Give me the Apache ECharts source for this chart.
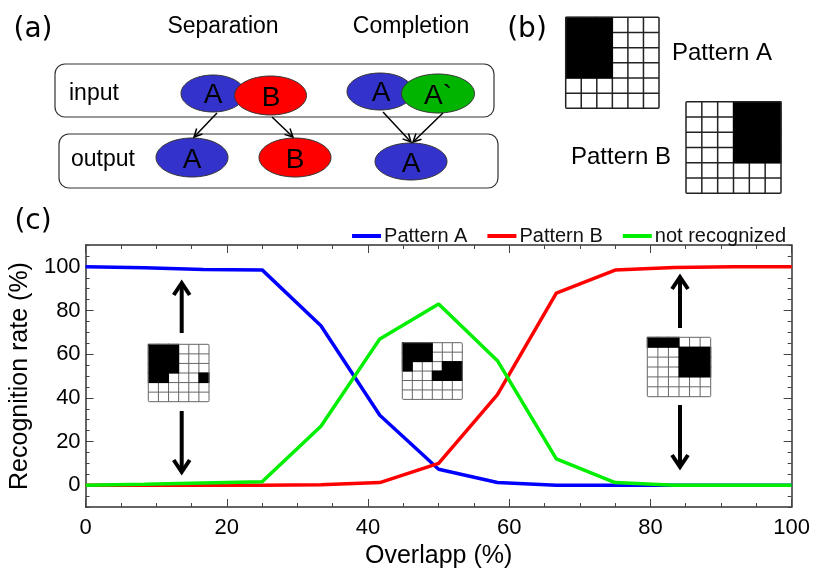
<!DOCTYPE html>
<html><head><meta charset="utf-8">
<script src="https://cdn.jsdelivr.net/npm/echarts@6/dist/echarts.min.js"></script>
<style>html,body{margin:0;padding:0;background:#fff}#main{width:813px;height:571px}</style>
</head><body><div id="main"></div>
<script>
// ---- data ----
const overlap = [0, 8.33, 16.67, 25, 33.33, 41.67, 50, 58.33, 66.67, 75, 83.33, 91.67, 100];
const patternA = [100, 99.6, 98.8, 98.6, 73, 32, 7.3, 1.2, 0, 0, 0, 0, 0];
const patternB = [0, 0, 0, 0, 0.2, 1.2, 10, 41.5, 88, 98.5, 99.7, 100, 100];
const notRecognized = [0, 0.4, 1, 1.6, 27, 67, 83, 57, 12, 1.2, 0, 0, 0];
const seriesNames = ['Pattern A', 'Pattern B', 'not recognized'];
const xTicks = [0, 20, 40, 60, 80, 100];
const yTicks = [0, 20, 40, 60, 80, 100];

// pattern grids (black cells as [row, col])
const gridPatA = [[0,0],[0,1],[0,2],[1,0],[1,1],[1,2],[2,0],[2,1],[2,2],[3,0],[3,1],[3,2]];
const gridPatB = [[0,3],[0,4],[0,5],[1,3],[1,4],[1,5],[2,3],[2,4],[2,5],[3,3],[3,4],[3,5]];
const gridInset1 = [[0,0],[0,1],[0,2],[1,0],[1,1],[1,2],[2,0],[2,1],[2,2],[3,0],[3,1],[3,5]];
const gridInset2 = [[0,0],[0,1],[0,2],[1,0],[1,1],[1,2],[2,0],[2,4],[2,5],[3,3],[3,4],[3,5]];
const gridInset3 = [[0,0],[0,1],[0,2],[1,3],[1,4],[1,5],[2,3],[2,4],[2,5],[3,3],[3,4],[3,5]];

const FONT = 'Liberation Sans, Arial, sans-serif';

function pixelGrid(x, y, w, h, cells, lineColor, lw, r) {
  const ch = [];
  const cw = w / 6, chh = h / 6;
  ch.push({type:'rect', shape:{x:x, y:y, width:w, height:h, r:r||0}, style:{fill:'#fff'}});
  for (let i = 1; i < 6; i++) {
    ch.push({type:'line', shape:{x1:x+i*cw, y1:y, x2:x+i*cw, y2:y+h}, style:{stroke:lineColor, lineWidth:lw}});
    ch.push({type:'line', shape:{x1:x, y1:y+i*chh, x2:x+w, y2:y+i*chh}, style:{stroke:lineColor, lineWidth:lw}});
  }
  cells.forEach(c => ch.push({type:'rect', shape:{x:x + c[1]*cw - 0.5, y:y + c[0]*chh - 0.5, width:cw+1, height:chh+1}, style:{fill:'#000'}}));
  ch.push({type:'rect', shape:{x:x, y:y, width:w, height:h, r:r||0}, style:{fill:'none', stroke:lineColor, lineWidth:lw}});
  return {type:'group', children:ch};
}

function arrow(x1, y1, x2, y2, lw, hl, hw) {
  const dx = x2 - x1, dy = y2 - y1, L = Math.sqrt(dx*dx + dy*dy);
  const ux = dx / L, uy = dy / L, px = -uy, py = ux;
  const bx = x2 - ux*hl, by = y2 - uy*hl;
  return {type:'group', children:[
    {type:'line', shape:{x1:x1, y1:y1, x2:x2 - ux*lw*0.3, y2:y2 - uy*lw*0.3}, style:{stroke:'#000', lineWidth:lw}},
    {type:'polyline', shape:{points:[[bx + px*hw, by + py*hw],[x2, y2],[bx - px*hw, by - py*hw]]}, style:{stroke:'#000', lineWidth:lw, fill:'none', lineJoin:'miter'}}
  ]};
}

function txt(x, y, s, size, family, align) {
  return {type:'text', x:x, y:y, style:{text:s, fontSize:size, fontFamily:family || FONT, fill:'#000', align:align || 'center', verticalAlign:'middle'}};
}
function ell(cx, cy, rx, ry, fill) {
  return {type:'ellipse', shape:{cx:cx, cy:cy, rx:rx, ry:ry}, style:{fill:fill, stroke:'#333', lineWidth:1}};
}

const graphics = [
  // panel labels
  txt(33, 30, '(a)', 28, 'DejaVu Sans'),
  txt(527, 30, '(b)', 28, 'DejaVu Sans'),
  txt(33, 222, '(c)', 28, 'DejaVu Sans'),
  // panel (a)
  txt(223, 27, 'Separation', 23),
  txt(411, 27, 'Completion', 23),
  {type:'rect', shape:{x:55, y:64, width:439, height:53, r:10}, style:{fill:'none', stroke:'#333', lineWidth:1.2}},
  {type:'rect', shape:{x:59, y:134, width:439, height:54, r:10}, style:{fill:'none', stroke:'#333', lineWidth:1.2}},
  txt(69, 94, 'input', 23, null, 'left'),
  txt(71, 160, 'output', 23, null, 'left'),
  ell(213, 93.5, 32, 18.5, '#3333cc'), txt(213, 95, 'A', 28),
  ell(270.5, 95.5, 36, 19.5, '#ff0000'), txt(271, 98, 'B', 28),
  ell(380, 91.5, 33, 18.5, '#3333cc'), txt(381, 93, 'A', 28),
  ell(438, 93.5, 36.5, 19.5, '#00b400'), txt(438, 96, 'A`', 28),
  ell(192, 157.5, 36, 19.5, '#3333cc'), txt(192, 160, 'A', 28),
  ell(295, 157.5, 36, 19.5, '#ff0000'), txt(295, 160, 'B', 28),
  ell(411, 161.5, 36, 18.5, '#3333cc'), txt(411, 164, 'A', 28),
  arrow(217, 113, 194, 137, 1.5, 8, 4),
  arrow(272, 117, 293, 137, 1.5, 8, 4),
  arrow(383, 112, 411, 142, 1.5, 8, 4),
  arrow(443, 113, 413, 142, 1.5, 8, 4),
  // panel (b)
  pixelGrid(565.7, 17.3, 93.3, 91, gridPatA, '#222', 1.5, 1),
  pixelGrid(686, 101.7, 95, 91.6, gridPatB, '#222', 1.5, 1),
  txt(672, 53, 'Pattern A', 24, null, 'left'),
  txt(571, 157, 'Pattern B', 24, null, 'left'),
  // insets in (c)
  pixelGrid(148.3, 344.3, 60.7, 57.4, gridInset1, '#666', 1, 1),
  pixelGrid(402.3, 342.7, 60, 56.7, gridInset2, '#666', 1, 1),
  pixelGrid(647.3, 337.3, 63.4, 59.4, gridInset3, '#666', 1, 1),
  arrow(181.7, 333, 181.7, 283, 4, 12, 8),
  arrow(181.7, 411, 181.7, 472, 4, 12, 8),
  arrow(680, 328, 680, 277, 4, 12, 8),
  arrow(680, 405, 680, 467, 4, 12, 8)
];

const axisLineStyle = {color:'#333', width:1.5};
const yBase = {type:'value', min:-10, max:110, splitLine:{show:false}};
const option = {
  animation:false,
  backgroundColor:'#fff',
  textStyle:{fontFamily:FONT},
  grid:{left:84, right:20, top:245, bottom:64, containLabel:false},
  legend:{
    data:seriesNames, right:22, top:221, icon:'rect', itemWidth:29, itemHeight:4, itemGap:20,
    textStyle:{fontSize:20, color:'#111', fontFamily:FONT, padding:[0,0,0,-2]}
  },
  xAxis:[
    {type:'value', min:0, max:100, interval:20, position:'bottom',
     axisLine:{show:true, onZero:false, lineStyle:axisLineStyle},
     axisTick:{show:true, inside:true, length:8, lineStyle:{color:'#444', width:1}},
     minorTick:{show:true, splitNumber:4, length:4, lineStyle:{color:'#444', width:1}},
     axisLabel:{fontSize:22, color:'#000', margin:10, fontFamily:FONT, customValues:xTicks},
     splitLine:{show:false},
     name:'Overlapp (%)', nameLocation:'middle', nameGap:37,
     nameTextStyle:{fontSize:25, color:'#000', fontFamily:FONT}},
    {type:'value', min:0, max:100, interval:20, position:'top',
     axisLine:{show:true, onZero:false, lineStyle:axisLineStyle},
     axisTick:{show:true, inside:true, length:8, lineStyle:{color:'#444', width:1}},
     minorTick:{show:true, splitNumber:4, length:4, lineStyle:{color:'#444', width:1}},
     axisLabel:{show:false}, splitLine:{show:false}}
  ],
  yAxis:[
    Object.assign({}, yBase, {interval:5, position:'left',
      axisLine:{show:true, onZero:false, lineStyle:axisLineStyle},
      axisTick:{show:true, inside:true, length:4, lineStyle:{color:'#444', width:1}},
      axisLabel:{show:false}}),
    Object.assign({}, yBase, {interval:5, position:'left',
      axisLine:{show:false, onZero:false},
      axisTick:{show:true, inside:true, length:8, customValues:yTicks, lineStyle:{color:'#444', width:1}},
      axisLabel:{show:true, customValues:yTicks, fontSize:22, color:'#000', margin:5, fontFamily:FONT},
      name:'Recognition rate (%)', nameLocation:'middle', nameGap:45, nameRotate:90,
      nameTextStyle:{fontSize:25, color:'#000', fontFamily:FONT}}),
    Object.assign({}, yBase, {interval:5, position:'right',
      axisLine:{show:true, onZero:false, lineStyle:axisLineStyle},
      axisTick:{show:true, inside:true, length:4, lineStyle:{color:'#444', width:1}},
      axisLabel:{show:false}}),
    Object.assign({}, yBase, {interval:5, position:'right',
      axisLine:{show:false, onZero:false},
      axisTick:{show:true, inside:true, length:8, customValues:yTicks, lineStyle:{color:'#444', width:1}},
      axisLabel:{show:false}})
  ],
  series:[
    {name:seriesNames[0], type:'line', xAxisIndex:0, yAxisIndex:0, symbol:'none', color:'#0000ff',
     lineStyle:{width:3.5, color:'#0000ff'}, data:overlap.map((x,i)=>[x, patternA[i]]), z:2},
    {name:seriesNames[1], type:'line', xAxisIndex:0, yAxisIndex:0, symbol:'none', color:'#ff0000',
     lineStyle:{width:3.5, color:'#ff0000'}, data:overlap.map((x,i)=>[x, patternB[i]]), z:3},
    {name:seriesNames[2], type:'line', xAxisIndex:0, yAxisIndex:0, symbol:'none', color:'#00ee00',
     lineStyle:{width:3.5, color:'#00ee00'}, data:overlap.map((x,i)=>[x, notRecognized[i]]), z:4}
  ],
  graphic:graphics
};
const chart = echarts.init(document.getElementById('main'), null, {renderer:'canvas'});
chart.setOption(option);
</script>
</body></html>
